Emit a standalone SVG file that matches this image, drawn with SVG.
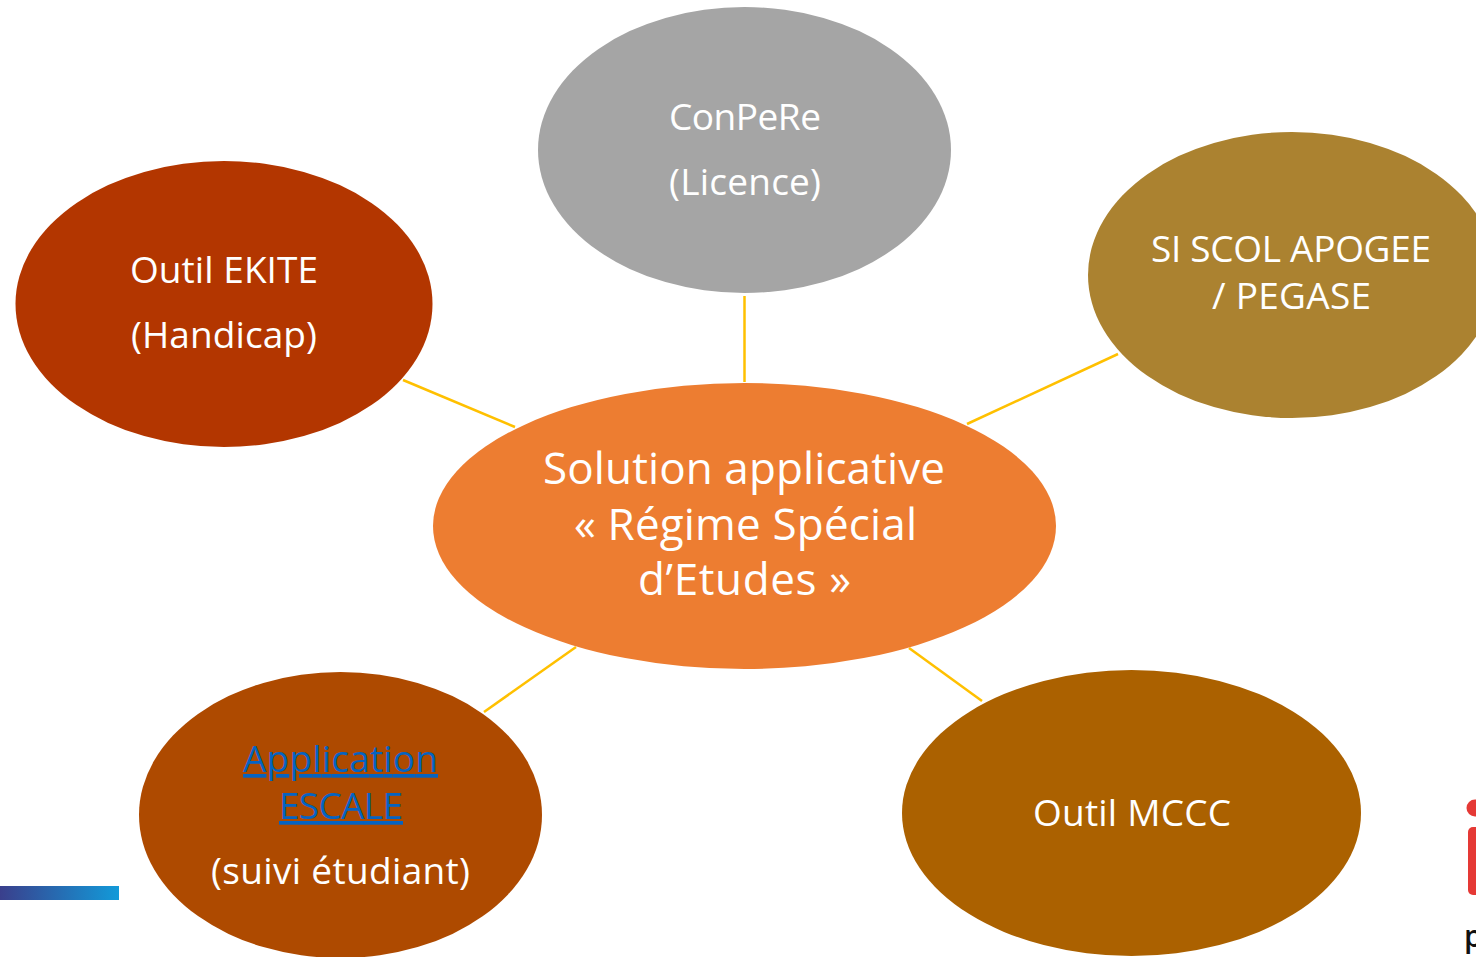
<svg xmlns="http://www.w3.org/2000/svg" width="1476" height="957" viewBox="0 0 1476 957">
<defs><linearGradient id="bar" x1="0" x2="1" y1="0" y2="0"><stop offset="0" stop-color="#3a3f8c"/><stop offset="1" stop-color="#129ad9"/></linearGradient></defs>
<style>
text{font-family:"Open Sans","Noto Sans","Liberation Sans",sans-serif;fill:#fff;text-anchor:middle;font-size:37px}
.c{font-size:44px}
.l{fill:#0563c1;text-decoration:underline}
line{stroke:#ffc000;stroke-width:2.5}
.logo{fill:#e53935}
</style>
<rect width="1476" height="957" fill="#fff"/>
<rect x="0" y="886" width="119" height="14" fill="url(#bar)"/>
<g id="logo">
<circle class="logo" cx="1475" cy="808" r="8.500"/>
<rect class="logo" x="1468" y="827" width="20" height="68" rx="5"/>
<text x="1464" y="947" style="fill:#111;text-anchor:start;font-size:30px;font-weight:600">p</text>
</g>
<g id="connectors">
<line x1="744.500" y1="296" x2="744.500" y2="382"/>
<line x1="403" y1="380" x2="515" y2="427"/>
<line x1="1118" y1="354" x2="967" y2="424"/>
<line x1="576" y1="647" x2="484" y2="712"/>
<line x1="909" y1="648" x2="982" y2="701"/>
</g>
<g id="center"><ellipse cx="744.500" cy="526" rx="311.500" ry="143" fill="#ed7d31"/>
<text class="c" x="744" y="484" textLength="402">Solution applicative</text><text class="c" x="745.500" y="540" textLength="343">« Régime Spécial</text><text class="c" x="744.500" y="595" textLength="213">d’Etudes »</text></g>
<g id="conpere"><ellipse cx="744.500" cy="150" rx="206.500" ry="143" fill="#a5a5a5"/>
<text x="745" y="130" textLength="152">ConPeRe</text><text x="745" y="195" textLength="152">(Licence)</text></g>
<g id="ekite"><ellipse cx="224" cy="304" rx="208.500" ry="143" fill="#b33600"/>
<text x="224" y="283" textLength="188">Outil EKITE</text><text x="224" y="348" textLength="186">(Handicap)</text></g>
<g id="apogee"><ellipse cx="1292" cy="275" rx="204" ry="143" fill="#ab8230"/>
<text x="1291" y="262" textLength="280">SI SCOL APOGEE</text><text x="1291.500" y="309" textLength="159">/ PEGASE</text></g>
<g id="escale"><ellipse cx="340.500" cy="815" rx="201.500" ry="143" fill="#ae4a00"/>
<text class="l" x="340.500" y="772" textLength="195">Application</text><text class="l" x="341" y="819" textLength="124">ESCALE</text><text x="340.500" y="884" textLength="259">(suivi étudiant)</text></g>
<g id="mccc"><ellipse cx="1131.500" cy="813" rx="229.500" ry="143" fill="#ab6100"/>
<text x="1132" y="826" textLength="198">Outil MCCC</text></g>
</svg>
